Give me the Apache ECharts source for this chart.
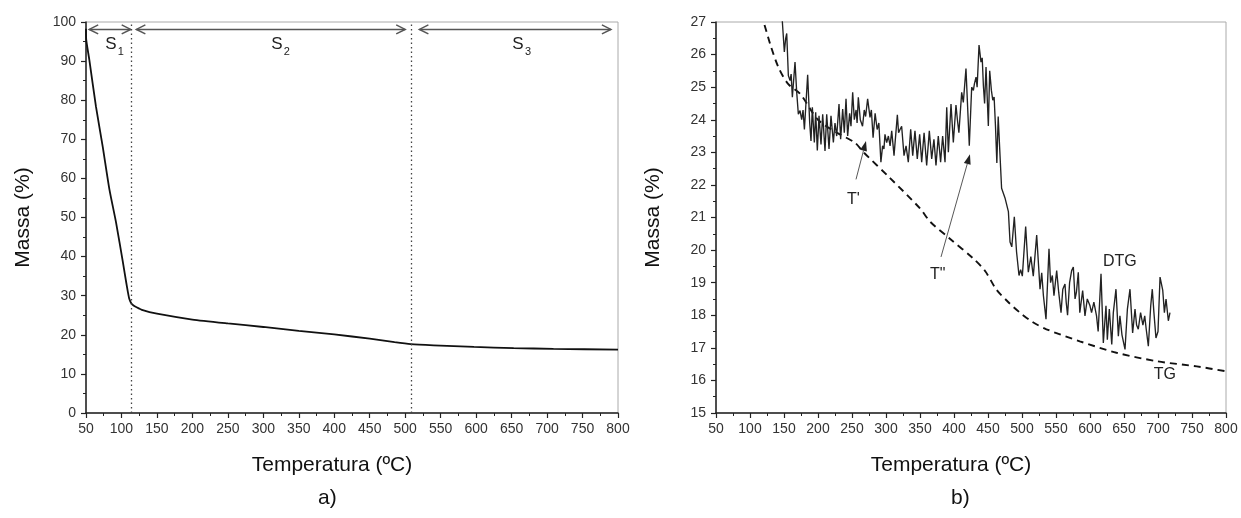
<!DOCTYPE html>
<html><head><meta charset="utf-8">
<script src="https://cdn.jsdelivr.net/npm/echarts@6/dist/echarts.min.js"></script>
<style>html,body{margin:0;padding:0;background:#fff}#c{width:1241px;height:518px}</style>
</head><body><div id="c"></div>
<script>
// ---------- data ----------
// a) TG curve
const tempA = [50, 50.3, 54.7, 64, 73.5, 83, 92.4, 102, 106.6, 109, 111, 114, 117, 120.7, 130, 150, 200, 250, 300, 350, 400, 450, 485, 508, 540, 597, 653, 709, 800];
const massA = [98.3, 95.5, 90.3, 78.4, 68.2, 57.2, 48.7, 38.6, 33.5, 31.0, 29.2, 28.0, 27.5, 27.1, 26.3, 25.4, 23.9, 22.9, 22.0, 21.0, 20.1, 19.0, 18.1, 17.6, 17.3, 16.9, 16.6, 16.4, 16.2];
// a) stage boundaries (dotted lines) and stage arrows
const stageBounds = [114, 508];
const stageArrowFrom = [54.5, 121, 520];
const stageArrowTo = [113, 500, 790];
const stageArrowLevel = 98.1;
const stageNames = ['S', 'S', 'S'];
const stageSubs = ['1', '2', '3'];
const stageLabelT = [85, 319, 659];
const stageLabelM = 94.2;

// b) TG (dashed)
const tempTG = [110, 120, 130, 142, 156, 174, 200, 228, 254, 267, 306, 350, 365, 394, 429, 446, 462, 480, 497, 515, 536, 585, 639, 698, 757, 800];
const massTG = [27.6, 27.0, 26.3, 25.6, 25.1, 24.79, 24.0, 23.6, 23.3, 23.0, 22.21, 21.28, 20.87, 20.35, 19.73, 19.35, 18.8, 18.4, 18.08, 17.8, 17.57, 17.2, 16.85, 16.59, 16.43, 16.28];
// b) DTG (noisy)
const tempDTG = [147,147.6,150.5,152.5,154,156.4,158.9,160.5,162.3,166.2,168.7,171.1,173.6,176,178,180,184.8,187.8,189.7,191.7,194.6,196.6,199,201.5,204.4,206.9,210.3,212.8,216.2,219.1,222.6,225,227.5,230.9,233.3,236.3,238.7,241.2,243.6,246.5,248.5,251,253.4,256,257.5,259.3,262.2,265.5,268,270,273,276.5,278.5,281,284,287,289.5,292.5,295,297,298.5,301,303.5,306,308.4,311.8,316.7,318.5,320.6,323,326.5,329.5,332.8,336.3,339.3,342.6,346,349.5,352.5,356,359.8,363.7,367.2,370.5,373.5,376.9,380.3,383.3,386.8,389.3,391.7,395.6,399,402.9,405,407.2,411.3,413.7,417.6,420.6,422.5,426,428.5,430,432.4,434,436.8,439.7,441.5,443.2,445,447.1,449,450.5,452.5,455,457,459,461,463,465,467,470,475,480,482.4,485,488.7,492,495.6,498,500.5,505.4,509.3,513,516.6,521.6,526.5,529,531.5,535.3,539.7,542,544.6,547,551,554,557.4,560,563.2,565,567,570,573,575.5,578,580,582.8,585,589.2,592.6,596,600,602.3,605.7,609.6,612,616.2,619.6,623.5,625.5,628.4,632,634.3,638.2,641.7,644,647,651.5,655,658.8,662.7,666.2,668.5,671,674.4,677.8,680.5,682.5,685.8,689.3,691.6,694,697,700,703,707,709.4,711.8,715.2,717.6];
const massDTG = [28.0,27.0,26.08,26.5,26.65,25.36,25.2,25.4,24.69,25.77,24.84,24.17,24.28,24.0,24.3,23.7,25.38,23.9,23.35,24.38,23.3,24.23,23.06,24.12,23.24,24.17,23.04,24.17,23.1,24.12,23.3,23.9,23.5,24.48,23.4,24.33,23.6,24.64,23.5,24.2,23.8,24.84,24.0,24.3,23.9,24.69,24.0,23.8,24.3,24.1,24.64,24.07,24.3,23.45,24.2,23.7,23.9,22.7,23.2,23.1,23.55,23.3,23.5,23.2,23.66,22.9,24.15,23.6,23.7,23.8,22.9,23.2,22.7,23.71,22.9,23.66,22.8,23.55,22.7,23.6,22.6,23.66,22.8,23.4,22.6,23.5,22.7,23.5,22.7,24.38,23.0,24.48,23.3,24.45,24.0,23.6,24.84,24.53,25.57,24.12,23.2,25.0,24.9,25.1,25.31,25.0,26.29,25.77,25.9,25.05,24.5,25.62,24.6,23.81,25.5,24.9,24.6,24.7,23.8,22.67,24.1,23.2,21.9,21.6,21.18,20.25,20.1,21.02,19.94,19.22,19.4,19.2,20.72,19.32,19.8,19.2,20.46,18.8,19.3,18.6,17.88,20.04,19.0,19.22,18.6,19.37,18.7,18.08,18.8,18.96,18.4,18.0,19.0,19.37,19.48,18.5,18.7,19.32,18.08,18.76,17.98,18.5,18.29,18.08,18.4,17.98,17.5,19.27,17.15,18.29,17.25,18.19,17.1,18.08,18.8,17.36,17.98,17.4,16.95,18.19,18.8,17.46,18.19,17.7,17.57,18.08,17.7,17.98,17.6,17.05,18.29,18.8,18.08,17.3,17.5,19.17,18.76,18.08,18.5,17.83,18.08];
// b) annotations: arrows [tailT, tailM, headT, headM] and text labels
const arrowTail_T = [255.9, 380.9];
const arrowTail_M = [22.17, 19.79];
const arrowHead_T = [270.6, 423.5];
const arrowHead_M = [23.35, 22.94];
const noteText = ["T'", 'T"', 'DTG', 'TG'];
const noteT = [252, 376, 644, 710];
const noteM = [21.55, 19.25, 19.65, 16.17];

// axis ticks
const xTickLabels = ['50','100','150','200','250','300','350','400','450','500','550','600','650','700','750','800'];
const yTickLabelsA = ['0','10','20','30','40','50','60','70','80','90','100'];
const yTickLabelsB = ['15','16','17','18','19','20','21','22','23','24','25','26','27'];

// ---------- build ----------
const zip = (a, b) => a.map((v, i) => [v, b[i]]);
const FONT = '"Liberation Sans", Arial, Helvetica, sans-serif';
const INK = '#111';

function xAxisCfg(gi) {
  return {
    gridIndex: gi, type: 'value', min: +xTickLabels[0], max: +xTickLabels[xTickLabels.length - 1], interval: 50,
    axisLine: { show: true, onZero: false, lineStyle: { color: '#222', width: 1.5 } },
    axisTick: { show: true, length: 5, lineStyle: { color: '#222', width: 1.2 } },
    minorTick: { show: true, splitNumber: 2, length: 3, lineStyle: { color: '#222', width: 1 } },
    splitLine: { show: false },
    axisLabel: { color: '#333', fontSize: 14, fontFamily: FONT, margin: 9 },
    name: 'Temperatura (ºC)', nameLocation: 'middle', nameGap: 42,
    nameTextStyle: { color: INK, fontSize: 21, fontFamily: FONT, padding: [0, 40, 0, 0] }
  };
}
function yAxisCfg(gi, labels, interval) {
  return {
    gridIndex: gi, type: 'value', min: +labels[0], max: +labels[labels.length - 1], interval: interval,
    axisLine: { show: true, onZero: false, lineStyle: { color: '#222', width: 1.5 } },
    axisTick: { show: true, length: 5, lineStyle: { color: '#222', width: 1.2 } },
    minorTick: { show: true, splitNumber: 2, length: 3, lineStyle: { color: '#222', width: 1 } },
    splitLine: { show: false },
    axisLabel: { color: '#333', fontSize: 14, fontFamily: FONT, margin: 10 },
    name: 'Massa (%)', nameLocation: 'middle', nameGap: 52,
    nameTextStyle: { color: INK, fontSize: 21, fontFamily: FONT }
  };
}

function renderStageArrow(params, api) {
  const i = params.dataIndex;
  const p1 = api.coord([stageArrowFrom[i], stageArrowLevel]);
  const p2 = api.coord([stageArrowTo[i], stageArrowLevel]);
  const h = 9, w = 4.5, st = { stroke: '#555', lineWidth: 1.5, fill: null };
  return { type: 'group', children: [
    { type: 'line', shape: { x1: p1[0], y1: p1[1], x2: p2[0], y2: p2[1] }, style: st },
    { type: 'polyline', shape: { points: [[p1[0] + h, p1[1] - w], [p1[0], p1[1]], [p1[0] + h, p1[1] + w]] }, style: st },
    { type: 'polyline', shape: { points: [[p2[0] - h, p2[1] - w], [p2[0], p2[1]], [p2[0] - h, p2[1] + w]] }, style: st }
  ]};
}
function renderStageLabel(params, api) {
  const i = params.dataIndex;
  const p = api.coord([stageLabelT[i], stageLabelM]);
  return { type: 'group', children: [
    { type: 'text', x: p[0], y: p[1], style: { text: stageNames[i], fill: '#222', font: '17px ' + FONT, align: 'center', verticalAlign: 'middle' } },
    { type: 'text', x: p[0] + 10, y: p[1] + 7, style: { text: stageSubs[i], fill: '#222', font: '11px ' + FONT, align: 'center', verticalAlign: 'middle' } }
  ]};
}
function renderNoteArrow(params, api) {
  const i = params.dataIndex;
  const t = api.coord([arrowTail_T[i], arrowTail_M[i]]);
  const h = api.coord([arrowHead_T[i], arrowHead_M[i]]);
  const dx = h[0] - t[0], dy = h[1] - t[1], L = Math.hypot(dx, dy), ux = dx / L, uy = dy / L;
  const len = 10, hw = 3.5;
  const bx = h[0] - ux * len, by = h[1] - uy * len;
  return { type: 'group', children: [
    { type: 'line', shape: { x1: t[0], y1: t[1], x2: bx, y2: by }, style: { stroke: '#444', lineWidth: 0.9 } },
    { type: 'polygon', shape: { points: [[h[0], h[1]], [bx - uy * hw, by + ux * hw], [bx + uy * hw, by - ux * hw]] }, style: { fill: '#222' } }
  ]};
}
function renderNote(params, api) {
  const i = params.dataIndex;
  const p = api.coord([noteT[i], noteM[i]]);
  return { type: 'text', x: p[0], y: p[1], style: { text: noteText[i], fill: '#222', font: '16px ' + FONT, align: 'center', verticalAlign: 'middle' } };
}

const chart = echarts.init(document.getElementById('c'), null, { renderer: 'canvas' });
chart.setOption({
  animation: false,
  backgroundColor: '#fff',
  grid: [
    { left: 86, right: 623, top: 22, bottom: 105, show: true, borderColor: '#aaa', borderWidth: 1, backgroundColor: 'transparent' },
    { left: 716, right: 15, top: 22, bottom: 105, show: true, borderColor: '#aaa', borderWidth: 1, backgroundColor: 'transparent' }
  ],
  xAxis: [xAxisCfg(0), xAxisCfg(1)],
  yAxis: [yAxisCfg(0, yTickLabelsA, 10), yAxisCfg(1, yTickLabelsB, 1)],
  graphic: [
    { type: 'text', left: 318, top: 488, style: { text: 'a)', fill: INK, font: '21px ' + FONT } },
    { type: 'text', left: 951, top: 488, style: { text: 'b)', fill: INK, font: '21px ' + FONT } }
  ],
  series: [
    { type: 'line', xAxisIndex: 0, yAxisIndex: 0, data: zip(tempA, massA), showSymbol: false, smooth: 0.2,
      lineStyle: { color: INK, width: 1.8 }, z: 3,
      markLine: { silent: true, symbol: 'none', label: { show: false },
        lineStyle: { type: [1.5, 3], color: '#444', width: 1.3 },
        data: stageBounds.map(v => ({ xAxis: v })) } },
    { type: 'custom', xAxisIndex: 0, yAxisIndex: 0, renderItem: renderStageArrow,
      data: stageArrowFrom.map((v, i) => [v, stageArrowLevel, stageArrowTo[i]]), encode: { x: [0, 2], y: 1 }, silent: true },
    { type: 'custom', xAxisIndex: 0, yAxisIndex: 0, renderItem: renderStageLabel,
      data: stageLabelT.map(v => [v, stageLabelM]), encode: { x: 0, y: 1 }, silent: true },
    { type: 'line', xAxisIndex: 1, yAxisIndex: 1, data: zip(tempTG, massTG), showSymbol: false, smooth: 0.3, clip: true,
      lineStyle: { color: INK, width: 1.9, type: [7, 5] } },
    { type: 'line', xAxisIndex: 1, yAxisIndex: 1, data: zip(tempDTG, massDTG), showSymbol: false, clip: true,
      lineStyle: { color: '#222', width: 1.35 } },
    { type: 'custom', xAxisIndex: 1, yAxisIndex: 1, renderItem: renderNoteArrow,
      data: arrowTail_T.map((v, i) => [v, arrowTail_M[i], arrowHead_T[i], arrowHead_M[i]]), encode: { x: [0, 2], y: [1, 3] }, silent: true },
    { type: 'custom', xAxisIndex: 1, yAxisIndex: 1, renderItem: renderNote,
      data: noteT.map((v, i) => [v, noteM[i]]), encode: { x: 0, y: 1 }, silent: true }
  ]
});
</script>
</body></html>
